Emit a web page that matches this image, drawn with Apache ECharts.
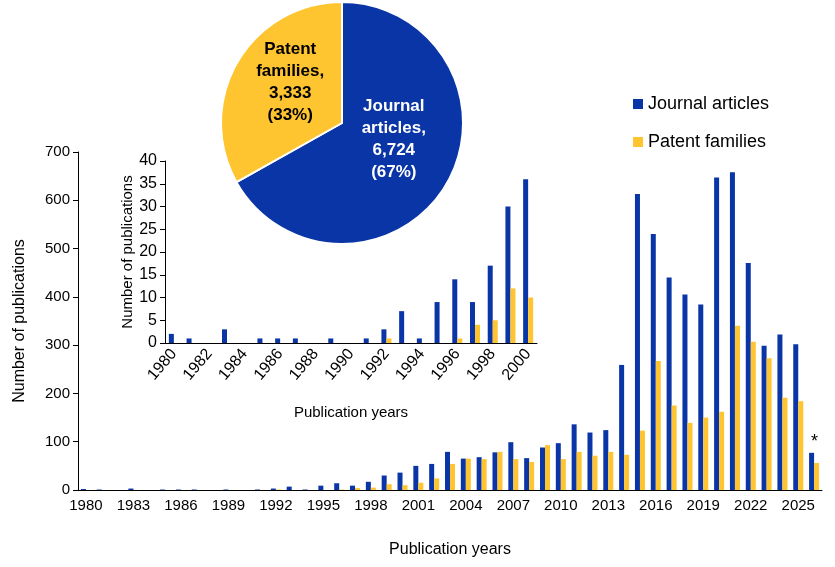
<!DOCTYPE html><html><head><meta charset="utf-8">
<script src="https://cdn.jsdelivr.net/npm/echarts@6/dist/echarts.min.js"></script>
<style>html,body{margin:0;padding:0;background:#fff}#c{width:835px;height:567px}</style></head><body><div id="c"></div>
<script>
const years = [];
for (let y = 1980; y <= 2026; y++) years.push(String(y));
const journal = [2,1,0,3,0,1,1,1,0,1,0,1,3,7,1,9,14,9,17,30,36,50,54,79,65,68,78,99,66,88,97,136,119,124,259,613,530,440,405,384,647,658,470,299,322,302,77];
const patents = [0,0,0,0,0,0,0,0,0,0,0,0,1,0,0,0,1,4,5,12,10,15,24,54,65,64,79,64,58,93,64,79,71,79,73,123,267,175,139,150,162,340,307,273,191,184,56];
const insetYears = years.slice(0,21);
const insetJournal = journal.slice(0,21);
const insetPatents = patents.slice(0,21);
const pieNames = ['Journal articles','Patent families'];
const pieValues = [6724, 3333];

const BLUE = '#0a35a6', YEL = '#fec530';
const font = 'Liberation Sans, Arial, sans-serif';
const journalData = journal.map((v,i)=> i===journal.length-1 ? {value:v,label:{show:true,position:'top',formatter:'*',fontSize:18,color:'#000',distance:2,offset:[3,0]}} : v);
const ax = {color:'#000', fontFamily:font};
const chart = echarts.init(document.getElementById('c'));
chart.setOption({
  animation:false,
  textStyle:{fontFamily:font},
  legend:{data:['Journal articles','Patent families'], orient:'vertical', left:628, top:90, itemGap:20, itemWidth:10, itemHeight:10, icon:'rect', textStyle:{fontSize:18,color:'#000',fontFamily:font}},
  grid:[
    {left:78, right:13, top:152, bottom:77},
    {left:165, right:298, top:161, bottom:224}
  ],
  xAxis:[
    {type:'category', gridIndex:0, data:years, name:'Publication years', nameLocation:'middle', nameGap:52, nameTextStyle:{fontSize:16,...ax},
     axisLine:{lineStyle:{color:'#000'}}, axisTick:{interval:0,lineStyle:{color:'#000'}}, axisLabel:{interval:2,fontSize:15,...ax}},
    {type:'category', gridIndex:1, data:insetYears, name:'Publication years', nameLocation:'middle', nameGap:62, nameTextStyle:{fontSize:15,...ax},
     axisLine:{lineStyle:{color:'#000'}}, axisTick:{interval:0,lineStyle:{color:'#000'}}, axisLabel:{interval:1,rotate:50,fontSize:16,...ax}}
  ],
  yAxis:[
    {type:'value', gridIndex:0, min:0, max:700, interval:100, name:'Number of publications', nameLocation:'middle', nameGap:50, nameTextStyle:{fontSize:16,...ax},
     axisLine:{show:true,lineStyle:{color:'#000'}}, axisTick:{show:true,lineStyle:{color:'#000'}}, splitLine:{show:false}, axisLabel:{fontSize:15,...ax}},
    {type:'value', gridIndex:1, min:0, max:40, interval:5, name:'Number of publications', nameLocation:'middle', nameGap:30, nameTextStyle:{fontSize:15,...ax},
     axisLine:{show:true,lineStyle:{color:'#000'}}, axisTick:{show:true,lineStyle:{color:'#000'}}, splitLine:{show:false}, axisLabel:{fontSize:16,...ax}}
  ],
  series:[
    {name:'Journal articles', type:'bar', xAxisIndex:0, yAxisIndex:0, data:journalData, barWidth:5, barGap:'0%', itemStyle:{color:BLUE}},
    {name:'Patent families', type:'bar', xAxisIndex:0, yAxisIndex:0, data:patents, barWidth:5, barGap:'0%', itemStyle:{color:YEL}},
    {name:'Journal articles', type:'bar', xAxisIndex:1, yAxisIndex:1, data:insetJournal, barWidth:5, barGap:'0%', itemStyle:{color:BLUE}},
    {name:'Patent families', type:'bar', xAxisIndex:1, yAxisIndex:1, data:insetPatents, barWidth:5, barGap:'0%', itemStyle:{color:YEL}},
    {type:'pie', center:[342,123], radius:121, startAngle:90, clockwise:true, z:10, legendHoverLink:false,
     itemStyle:{borderColor:'#fff', borderWidth:2},
     data:[
       {name:pieNames[0], value:pieValues[0], itemStyle:{color:BLUE}, label:{color:'#fff', formatter:'Journal\narticles,\n6,724\n(67%)', offset:[-3,-16]}},
       {name:pieNames[1], value:pieValues[1], itemStyle:{color:YEL}, label:{color:'#000', formatter:'Patent\nfamilies,\n3,333\n(33%)', offset:[3,-9]}}
     ],
     label:{show:true, position:'inside', fontSize:17, fontWeight:'bold', lineHeight:22, fontFamily:font},
     labelLine:{show:false}}
  ]
});
</script></body></html>
